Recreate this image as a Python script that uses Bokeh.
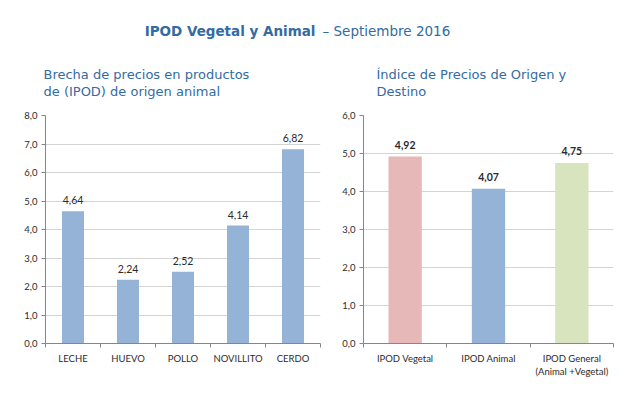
from bokeh.plotting import figure
from bokeh.layouts import column, row
from bokeh.models import Range1d, FixedTicker, ColumnDataSource
from bokeh.core.properties import value
from bokeh.embed import file_html
from bokeh.resources import INLINE

# ---- data ----
title_bold = "IPOD Vegetal y Animal"
title_rest = "– Septiembre 2016"
left_subtitle = ["Brecha de precios en productos", "de (IPOD) de origen animal"]
right_subtitle = ["Índice de Precios de Origen y", "Destino"]

animal_cats = ["LECHE", "HUEVO", "POLLO", "NOVILLITO", "CERDO"]
animal_vals = [4.64, 2.24, 2.52, 4.14, 6.82]
animal_lbls = ["4,64", "2,24", "2,52", "4,14", "6,82"]
left_yticks = [0, 1, 2, 3, 4, 5, 6, 7, 8]
left_ylabels = ["0,0", "1,0", "2,0", "3,0", "4,0", "5,0", "6,0", "7,0", "8,0"]

ipod_cats = ["IPOD Vegetal", "IPOD Animal", "IPOD General\n(Animal +Vegetal)"]
ipod_vals = [4.92, 4.07, 4.75]
ipod_lbls = ["4,92", "4,07", "4,75"]
ipod_colors = ["#E6B9B8", "#95B3D7", "#D7E4BD"]
right_yticks = [0, 1, 2, 3, 4, 5, 6]
right_ylabels = ["0,0", "1,0", "2,0", "3,0", "4,0", "5,0", "6,0"]

BLUE_TXT = "#336BA3"
TICK_TXT = "#2B2B2B"
GRID = "#D4D4D4"
AXIS = "#868686"
TICK_FONT = "Lato"

# ---- header figure (pixel coordinates) ----
top = figure(width=631, height=104, x_range=Range1d(0, 631), y_range=Range1d(104, 0),
             output_backend="svg", toolbar_location=None, min_border=0)
top.axis.visible = False
top.grid.visible = False
top.outline_line_color = None
top.text(x=[315], y=[30], text=[title_bold], text_font=value("DejaVu Sans"),
         text_font_style="bold", text_font_size="13.5px", text_color=BLUE_TXT,
         text_align="right", text_baseline="middle")
top.text(x=[322], y=[30], text=[title_rest], text_font=value("DejaVu Sans"),
         text_font_size="13.5px", text_color=BLUE_TXT,
         text_align="left", text_baseline="middle")
top.text(x=[43, 43], y=[74, 91], text=left_subtitle, text_font=value("DejaVu Sans"),
         text_font_size="13px", text_color=BLUE_TXT, text_align="left", text_baseline="middle")
top.text(x=[376, 376], y=[74, 91], text=right_subtitle, text_font=value("DejaVu Sans"),
         text_font_size="13px", text_color=BLUE_TXT, text_align="left", text_baseline="middle")


def style(p, yticks, ylabels, ncat, cats):
    p.outline_line_color = None
    p.xgrid.visible = False
    p.ygrid.ticker = FixedTicker(ticks=yticks)
    p.ygrid.grid_line_color = GRID
    p.yaxis.ticker = FixedTicker(ticks=yticks)
    p.yaxis.major_label_overrides = {t: l for t, l in zip(yticks, ylabels)}
    p.yaxis.axis_line_color = AXIS
    p.yaxis.major_tick_line_color = AXIS
    p.yaxis.major_tick_in = 0
    p.yaxis.major_tick_out = 4
    p.yaxis.minor_tick_line_color = None
    p.yaxis.major_label_text_font = TICK_FONT
    p.yaxis.major_label_text_font_size = "9.5px"
    p.yaxis.major_label_text_color = TICK_TXT
    p.yaxis.major_label_standoff = 4
    centers = [i + 0.5 for i in range(ncat)]
    p.xaxis.ticker = FixedTicker(ticks=centers, minor_ticks=list(range(ncat + 1)))
    p.xaxis.major_label_overrides = {c: l for c, l in zip(centers, cats)}
    p.xaxis.major_tick_line_color = None
    p.xaxis.minor_tick_line_color = AXIS
    p.xaxis.minor_tick_in = 0
    p.xaxis.minor_tick_out = 4
    p.xaxis.axis_line_color = AXIS
    p.xaxis.major_label_text_font = TICK_FONT
    p.xaxis.major_label_text_font_size = "9.5px"
    p.xaxis.major_label_text_color = TICK_TXT
    p.xaxis.major_label_standoff = 3


# ---- left chart ----
left = figure(width=325, height=284, x_range=Range1d(0, len(animal_cats)), y_range=Range1d(0, 8),
              output_backend="svg", toolbar_location=None,
              min_border_left=45, min_border_right=5, min_border_top=10, min_border_bottom=45)
src_l = ColumnDataSource(dict(x=[i + 0.5 for i in range(len(animal_cats))], top=animal_vals, lbl=animal_lbls))
left.vbar(x="x", top="top", width=0.4, bottom=0, source=src_l, fill_color="#95B3D7", line_color=None)
left.text(x="x", y="top", text="lbl", source=src_l, y_offset=-7, text_align="center",
          text_baseline="bottom", text_font=value(TICK_FONT), text_font_size="10.5px", text_color=TICK_TXT)
style(left, left_yticks, left_ylabels, len(animal_cats), animal_cats)

# ---- right chart ----
right = figure(width=306, height=284, x_range=Range1d(0, len(ipod_cats)), y_range=Range1d(0, 6),
               output_backend="svg", toolbar_location=None,
               min_border_left=38, min_border_right=18, min_border_top=11, min_border_bottom=43)
src_r = ColumnDataSource(dict(x=[i + 0.5 for i in range(len(ipod_cats))], top=ipod_vals, lbl=ipod_lbls, c=ipod_colors))
right.vbar(x="x", top="top", width=0.4, bottom=0, source=src_r, fill_color="c", line_color=None)
right.text(x="x", y="top", text="lbl", source=src_r, y_offset=-8, text_align="center",
           text_baseline="bottom", text_font=value(TICK_FONT), text_font_style="bold",
           text_font_size="10.5px", text_color=TICK_TXT)
style(right, right_yticks, right_ylabels, len(ipod_cats), ipod_cats)

layout = column(top, row(left, right))
open("out.html", "w").write(file_html(layout, INLINE))
